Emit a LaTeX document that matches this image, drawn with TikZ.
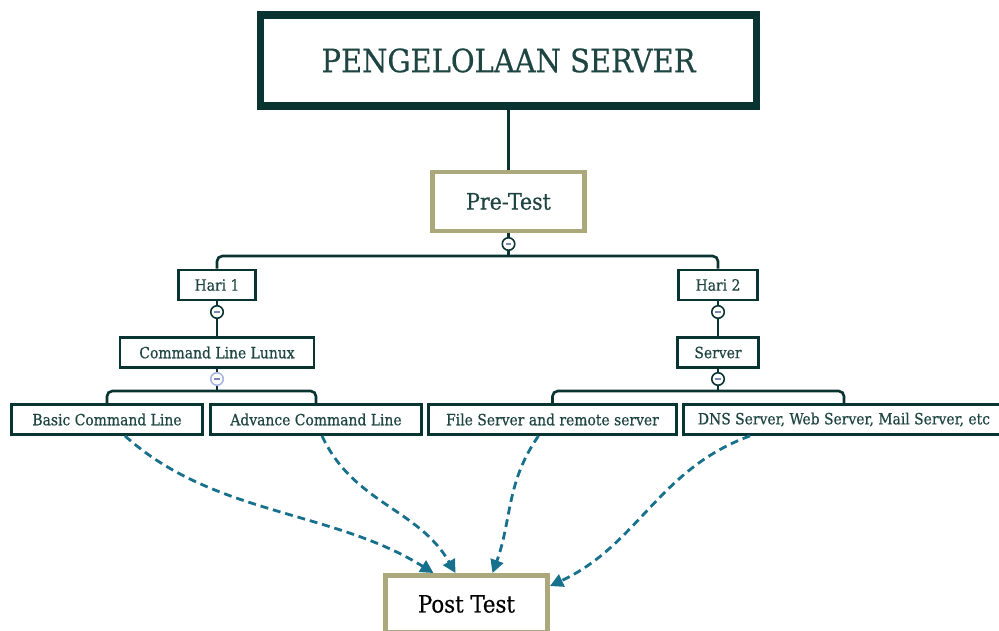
\documentclass[tikz,border=0pt]{standalone}
\usepackage{fontspec}
\setmainfont{DejaVu Serif Condensed}[FakeBold=0.45]
\usetikzlibrary{arrows.meta}

\definecolor{hijautua}{HTML}{0A3431}
\definecolor{teks}{HTML}{1E4541}
\definecolor{zaitun}{HTML}{ABA87B}
\definecolor{biru}{HTML}{17708C}
\definecolor{minus}{HTML}{7C88B8}
\definecolor{pudar}{HTML}{A9B4E3}

\begin{document}
\begin{tikzpicture}[>={Triangle[length=7.5pt,width=7.5pt]},x=0.02cm,y=-0.02cm,
    kotak/.style={draw=hijautua,line width=1.6pt,fill=white,text=teks,inner sep=0pt,
        minimum height=0.6cm,font=\fontsize{8.8}{10}\selectfont},
    ujian/.style={draw=zaitun,line width=2.6pt,fill=white,inner sep=0pt},
    knop/.style={circle,draw=hijautua,fill=white,line width=0.9pt,minimum size=0.25cm,inner sep=0pt,
        path picture={\draw[line width=1.1pt,minus] ([xshift=-1.6pt]path picture bounding box.center)
            -- ([xshift=1.6pt]path picture bounding box.center);}},
    garis/.style={draw=hijautua,line width=1.5pt,rounded corners=3pt},
    panah/.style={->,draw=biru,line width=1.6pt,dash pattern=on 4.5pt off 2.8pt}]
    \clip (0,0) rectangle (999,631);

    % judul dan pre-test
    \node[draw=hijautua,line width=4.3pt,text=teks,inner sep=0pt,minimum width=9.93cm,minimum height=1.83cm,
        font=\fontsize{18.3}{20}\selectfont] (judul) at (508.5,60.5) {PENGELOLAAN SERVER};
    \node[ujian,text=teks,minimum width=3.04cm,minimum height=1.18cm,font=\fontsize{13}{15}\selectfont]
        (pre) at (508.5,201.5) {Pre-Test};
    \node[knop] (k0) at (508.5,244) {};
    \coordinate (c0) at ([yshift=-0.1cm]k0.south);

    % hari 1
    \node[kotak,minimum width=1.54cm] (hari1) at (217,285) {Hari 1};
    \node[knop] (k1) at (217,312) {};
    \node[kotak,minimum width=3.88cm] (cli) at (217,352.5) {Command Line Lunux};
    \node[knop,draw=pudar] (k2) at (217,379) {};
    \coordinate (c2) at ([yshift=-0.1cm]k2.south);
    \node[kotak,minimum width=3.82cm] (basic) at (107,419.5) {Basic Command Line};
    \node[kotak,minimum width=4.22cm] (advance) at (316,419.5) {Advance Command Line};

    % hari 2
    \node[kotak,minimum width=1.58cm] (hari2) at (718,285) {Hari 2};
    \node[knop] (k3) at (718,312) {};
    \node[kotak,minimum width=1.62cm] (server) at (718,352.5) {Server};
    \node[knop] (k4) at (718,379) {};
    \coordinate (c4) at ([yshift=-0.1cm]k4.south);
    \node[kotak,minimum width=4.96cm] (file) at (552.5,419.5) {File Server and remote server};
    \node[kotak,minimum width=6.42cm] (dns) at (844,419.5) {DNS Server, Web Server, Mail Server, etc};

    % post test
    \node[ujian,line width=2.8pt,minimum width=3.24cm,minimum height=1.14cm,
        font=\fontsize{13.5}{15}\selectfont] (post) at (466.5,604) {Post Test};

    % garis pohon
    \draw[garis] (judul) -- (pre);
    \draw[garis] (pre) -- (k0) -- (c0);
    \draw[garis] (hari1.north) |- (c0) -| (hari2.north);
    \draw[garis] (hari1) -- (k1) -- (cli);
    \draw[garis] (cli) -- (k2) -- (c2);
    \draw[garis] (basic.north) |- (c2) -| (advance.north);
    \draw[garis] (hari2) -- (k3) -- (server) -- (k4) -- (c4);
    \draw[garis] (file.north) |- (c4) -| (dns.north);

    % panah ke post test
    \draw[panah] ([xshift=0.36cm]basic.south) to[out=-42,in=148,looseness=0.9] ([xshift=-0.66cm]post.north);
    \draw[panah] ([xshift=0.12cm]advance.south) to[out=-65,in=120] ([xshift=-0.22cm]post.north);
    \draw[panah] ([xshift=-0.28cm]file.south) to[out=-125,in=70] ([xshift=0.52cm]post.north);
    \draw[panah] ([xshift=-1.88cm]dns.south) to[out=-160,in=25] ([yshift=-0.26cm]post.north east);
\end{tikzpicture}
\end{document}
